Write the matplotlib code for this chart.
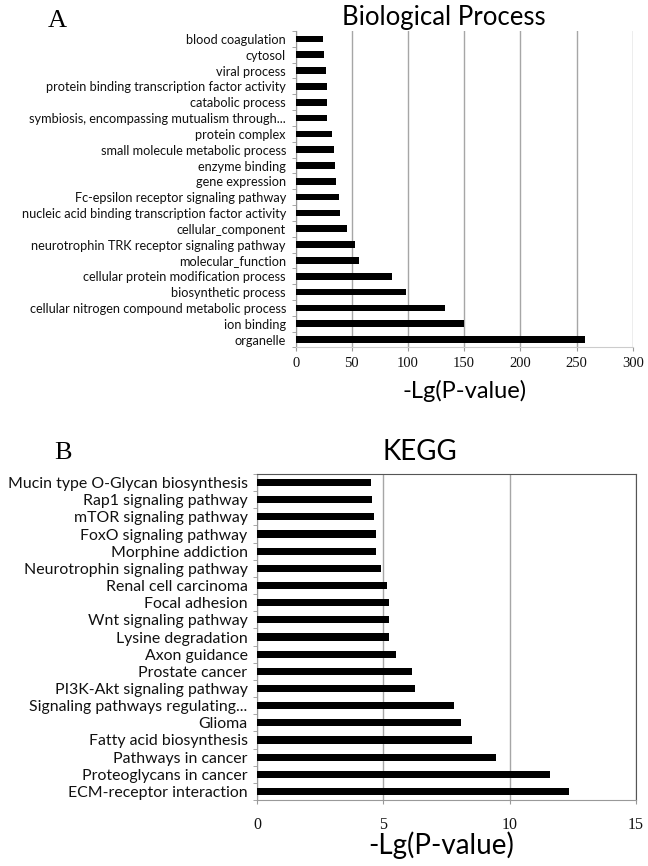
import numpy as np
import matplotlib
matplotlib.use("Agg")
import matplotlib.pyplot as plt

# panel A: GO biological process (top to bottom as drawn)
bp_terms = [
    "blood coagulation", "cytosol", "viral process",
    "protein binding transcription factor activity", "catabolic process",
    "symbiosis, encompassing mutualism through...", "protein complex",
    "small molecule metabolic process", "enzyme binding", "gene expression",
    "Fc-epsilon receptor signaling pathway",
    "nucleic acid binding transcription factor activity", "cellular_component",
    "neurotrophin TRK receptor signaling pathway", "molecular_function",
    "cellular protein modification process", "biosynthetic process",
    "cellular nitrogen compound metabolic process", "ion binding", "organelle",
]
bp_values = [24.0, 25.4, 26.9, 28.0, 28.0, 28.0, 32.1, 34.3, 35.4, 36.1,
             38.3, 39.1, 45.7, 53.1, 56.0, 85.9, 98.0, 133.0, 149.5, 257.8]
bp_ticks = [0, 50, 100, 150, 200, 250, 300]

# panel B: KEGG pathways
kegg_terms = [
    "Mucin type O-Glycan biosynthesis", "Rap1 signaling pathway",
    "mTOR signaling pathway", "FoxO signaling pathway", "Morphine addiction",
    "Neurotrophin signaling pathway", "Renal cell carcinoma", "Focal adhesion",
    "Wnt signaling pathway", "Lysine degradation", "Axon guidance",
    "Prostate cancer", "PI3K-Akt signaling pathway",
    "Signaling pathways regulating...", "Glioma", "Fatty acid biosynthesis",
    "Pathways in cancer", "Proteoglycans in cancer", "ECM-receptor interaction",
]
kegg_values = [4.51, 4.56, 4.61, 4.70, 4.70, 4.91, 5.16, 5.21, 5.21, 5.21,
               5.50, 6.12, 6.27, 7.78, 8.08, 8.53, 9.46, 11.61, 12.37]
kegg_ticks = [0, 5, 10, 15]

W, H = 648, 866
fig = plt.figure(figsize=(W / 100, H / 100), dpi=100)
sans = ["Lato", "DejaVu Sans"]
serif = ["Liberation Serif", "DejaVu Serif"]


def px_axes(x0, y0, x1, y1):
    return fig.add_axes([x0 / W, 1 - y1 / H, (x1 - x0) / W, (y1 - y0) / H])


def draw_panel(ax, terms, values, ticks, label_size, tick_size, pad):
    n = len(terms)
    y = np.arange(n)
    ax.barh(y, values, height=0.42, color="black", zorder=3)
    ax.set_ylim(n - 0.5, -0.5)
    ax.set_xlim(ticks[0], ticks[-1])
    ax.set_yticks(y)
    ax.set_yticklabels(terms, family=sans, fontsize=label_size, color="#111111")
    ax.set_yticks(np.arange(n + 1) - 0.5, minor=True)
    ax.tick_params(axis="y", which="major", length=0, pad=7)
    ax.tick_params(axis="y", which="minor", length=3, color="#999999", direction="out")
    ax.set_xticks(ticks)
    ax.set_xticklabels([str(t) for t in ticks], family=serif, fontsize=tick_size,
                       color="#111111")
    ax.tick_params(axis="x", length=3, color="#999999", pad=pad)
    ax.grid(axis="x", color="#a6a6a6", linewidth=1.0, zorder=0)


# ---- panel A
ax1 = px_axes(295.7, 31, 632.7, 347.5)
draw_panel(ax1, bp_terms, bp_values, bp_ticks, 9.2, 10.5, 4)
ax1.spines["top"].set_visible(False)
ax1.spines["right"].set_visible(False)
ax1.spines["left"].set_color("#999999")
ax1.spines["bottom"].set_color("#cccccc")

fig.text(57 / W, 1 - 21 / H, "A", family=serif, fontsize=19, ha="center", va="center")
fig.text(444 / W, 1 - 18 / H, "Biological Process", family=sans, fontsize=18.5,
         ha="center", va="center")
fig.text(465 / W, 1 - 391 / H, "-Lg(P-value)", family=sans, fontsize=17,
         ha="center", va="center")

# ---- panel B
ax2 = px_axes(257.3, 474, 635.7, 800)
draw_panel(ax2, kegg_terms, kegg_values, kegg_ticks, 11.4, 11.5, 9)
for s in ["top", "right"]:
    ax2.spines[s].set_color("#555555")
ax2.spines["left"].set_color("#999999")
ax2.spines["bottom"].set_color("#999999")

fig.text(63 / W, 1 - 453 / H, "B", family=serif, fontsize=19, ha="center", va="center")
fig.text(420 / W, 1 - 452 / H, "KEGG", family=sans, fontsize=20,
         ha="center", va="center")
fig.text(441 / W, 1 - 845 / H, "-Lg(P-value)", family=sans, fontsize=20,
         ha="center", va="center")

fig.savefig("out.png", dpi=100, facecolor="white")
